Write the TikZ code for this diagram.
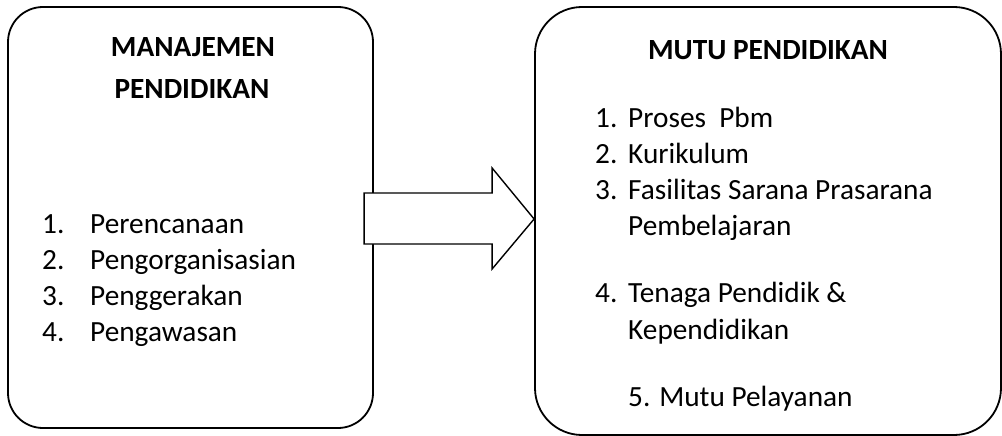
\documentclass[tikz,border=0pt]{standalone}
\usepackage{fontspec}
\setmainfont{Carlito}
\begin{document}
\begin{tikzpicture}[
        x=1pt, y=-1pt,
        box/.style={draw, line width=1.8pt, rounded corners=#1, inner sep=0pt},
        head/.style={font=\fontsize{29.3}{35}\selectfont\bfseries, anchor=base, inner sep=0pt},
        item/.style={font=\fontsize{29.3}{35}\selectfont, anchor=base west, inner sep=0pt},
        blockarrow/.style={draw, fill=white, line width=1.4pt, line join=miter},
    ]
    \useasboundingbox (0,0) rectangle (1002,436);
    \node[box=35pt, minimum width=365pt, minimum height=421pt](mgmt) at (190.5,217.5){};
    \node[box=47pt, minimum width=466pt, minimum height=428pt](mutu) at (768,221){};
    % block arrow between the two boxes
    \coordinate (tip) at ([yshift=2pt]mutu.west);
    \draw[blockarrow] (tip) -- ++(-42,-51) -- ++(0,25) -- ++(-128,0) -- ++(0,51)
        -- ++(128,0) -- ++(0,25) -- cycle;
    % left box
    \node[head](mgmt1) at (193,57){MANAJEMEN};
    \node[head](mgmt2) at (192,99){PENDIDIKAN};
    \node[item](n1) at (42,233){1.};
    \node[item](n2) at (42,269){2.};
    \node[item](n3) at (42,305){3.};
    \node[item](n4) at (42,341){4.};
    \node[item](plan) at (90,233){Perencanaan};
    \node[item](org) at (90,269){Pengorganisasian};
    \node[item](act) at (90,305){Penggerakan};
    \node[item](ctrl) at (90,341){Pengawasan};
    % right box
    \node[head](mutu1) at (768,60){MUTU PENDIDIKAN};
    \node[item](m1) at (595,128){1.};
    \node[item](m2) at (595,163){2.};
    \node[item](m3) at (595,199){3.};
    \node[item](m4) at (595,302){4.};
    \node[item](pbm) at (628,128){Proses~~Pbm};
    \node[item](kur) at (628,163){Kurikulum};
    \node[item](fas) at (628,199){Fasilitas Sarana Prasarana};
    \node[item](fas2) at (628,235){Pembelajaran};
    \node[item](ten) at (628,302){Tenaga Pendidik \&};
    \node[item](ten2) at (628,339){Kependidikan};
    \node[item](lay) at (628,406){5. Mutu Pelayanan};
\end{tikzpicture}
\end{document}
